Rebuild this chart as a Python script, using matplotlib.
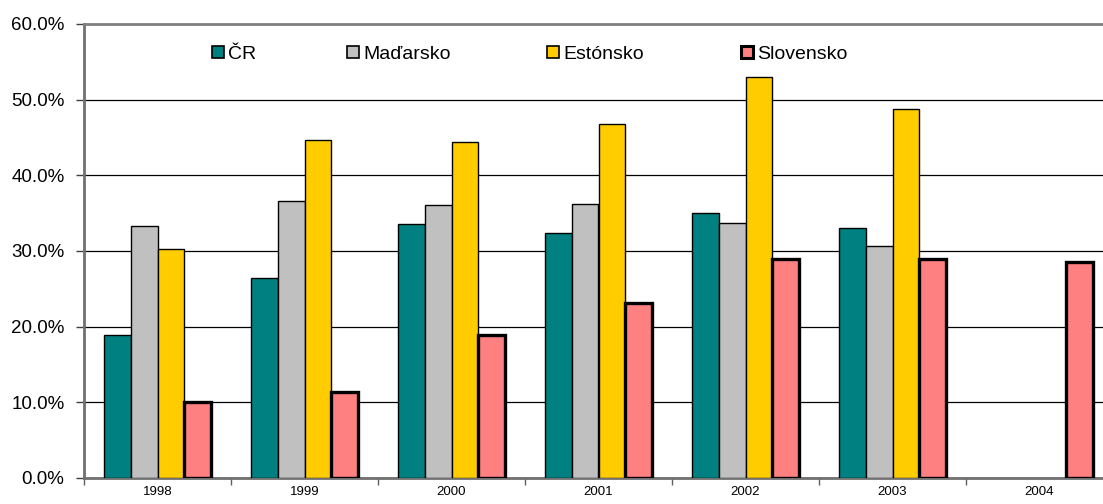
import numpy as np
import matplotlib
matplotlib.use("Agg")
import matplotlib.pyplot as plt
from matplotlib.patches import Rectangle
from matplotlib.ticker import FuncFormatter, FixedLocator

plt.rcParams["font.family"] = ["Liberation Sans", "DejaVu Sans"]

# ---- data (percent) ----
years = ["1998", "1999", "2000", "2001", "2002", "2003", "2004"]
series_names = ["ČR", "Maďarsko", "Estónsko", "Slovensko"]
cr = [18.9, 26.4, 33.6, 32.4, 35.0, 33.0, np.nan]
madarsko = [33.3, 36.6, 36.1, 36.2, 33.7, 30.7, np.nan]
estonsko = [30.3, 44.7, 44.4, 46.8, 53.0, 48.8, np.nan]
slovensko = [10.0, 11.4, 18.9, 23.1, 29.0, 29.0, 28.6]

colors = ["#008080", "#C0C0C0", "#FFCC00", "#FF8080"]
edge_w = [1.0, 1.0, 1.0, 2.4]

fig = plt.figure(figsize=(11.03, 5.04), dpi=100)
ax = fig.add_axes([84 / 1103, 1 - 478 / 504, (1113 - 84) / 1103, (478 - 24) / 504])

x = np.arange(len(years))
bw = 0.182
all_vals = [cr, madarsko, estonsko, slovensko]
for i, vals in enumerate(all_vals):
    ax.bar(x + (i - 1.5) * bw, vals, width=bw, color=colors[i],
           edgecolor="black", linewidth=edge_w[i], zorder=3)

ax.set_xlim(-0.5, len(years) - 0.5)
ax.set_ylim(0, 60)
ax.set_yticks(np.arange(0, 61, 10))
ax.yaxis.set_major_formatter(FuncFormatter(lambda v, p: "%.1f%%" % v))
ax.yaxis.grid(True, color="black", linewidth=0.9, zorder=0)
ax.set_axisbelow(True)

# category ticks between groups, labels at the centres
ax.set_xticks(x)
ax.set_xticklabels(years, fontsize=9.5)
ax.tick_params(axis="x", which="major", length=0, pad=6)
ax.xaxis.set_minor_locator(FixedLocator(np.arange(-0.5, len(years), 1)))
ax.tick_params(axis="x", which="minor", length=5, width=1, color="#606060")
ax.tick_params(axis="y", labelsize=13.5, length=6, width=1, color="#404040", pad=8)

for s in ["left", "bottom"]:
    ax.spines[s].set_color("#707070")
    ax.spines[s].set_linewidth(2)
ax.spines["top"].set_color("#808080")
ax.spines["top"].set_linewidth(2)
ax.spines["right"].set_visible(False)

# ---- legend drawn by hand (irregular spacing like the original) ----
W, H = 1103, 504
marker_x = [212, 347, 547, 741]
y_c = 52
for i, name in enumerate(series_names):
    lw = 2.2 if i == 3 else 1.2
    fig.add_artist(Rectangle((marker_x[i] / W, 1 - (y_c + 6) / H), 12 / W, 12 / H,
                             facecolor=colors[i], edgecolor="black", linewidth=lw,
                             transform=fig.transFigure))
    fig.text((marker_x[i] + 16) / W, 1 - (y_c + 7) / H, name, fontsize=14,
             va="baseline", ha="left")

fig.savefig("out.png", dpi=100)
